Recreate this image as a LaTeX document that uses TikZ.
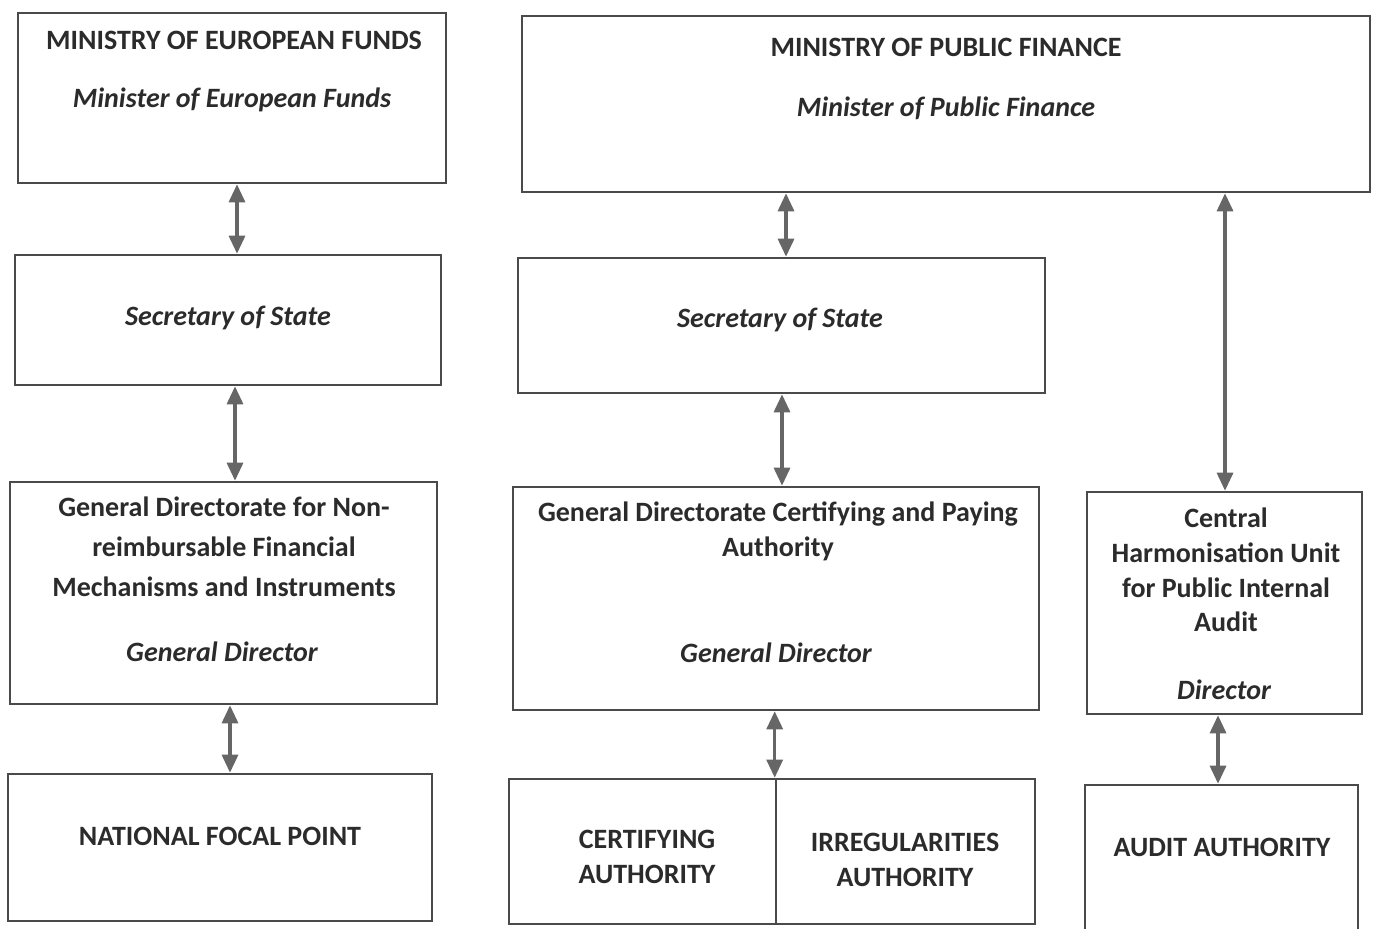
\documentclass[tikz,border=0pt]{standalone}
\usepackage{fontspec}
\setmainfont{Carlito}
\usetikzlibrary{arrows.meta,fit}
\definecolor{bordc}{HTML}{4A4A4A}
\definecolor{arrc}{HTML}{666666}
\definecolor{txtc}{HTML}{2B2B2B}
\tikzset{
  box/.style={draw=bordc, line width=1.3pt, inner sep=0pt},
  lbl/.style={text=txtc, font=\fontsize{14}{20}\selectfont\bfseries, align=center, inner sep=0pt},
  ilbl/.style={lbl, font=\fontsize{14}{20}\selectfont\bfseries\itshape},
  tlbl/.style={lbl, font=\fontsize{14}{17.3}\selectfont\bfseries},
  arr/.style={draw=arrc, line width=1.6pt, {Triangle[length=9pt,width=8pt]}-{Triangle[length=9pt,width=8pt]}}
}
\begin{document}
\begin{tikzpicture}[x=0.5pt,y=-0.5pt]
\useasboundingbox (0,0) rectangle (1379,929);
% boxes
\node[box, fit={(18,13)(446,183)}] (mef) {};
\node[box, fit={(522,16)(1370,192)}] (mpf) {};
\node[box, fit={(15,255)(441,385)}] (ss1) {};
\node[box, fit={(518,258)(1045,393)}] (ss2) {};
\node[box, fit={(10,482)(437,704)}] (gd1) {};
\node[box, fit={(513,487)(1039,710)}] (gd2) {};
\node[box, fit={(1087,492)(1362,714)}] (chu) {};
\node[box, fit={(8,774)(432,921)}] (nfp) {};
\node[box, fit={(509,779)(776,924)}] (ca) {};
\node[box, fit={(776,779)(1035,924)}] (ia) {};
\node[box, fit={(1085,785)(1358,935)}] (aa) {};
% texts
\node[lbl] (t1) at (234,40) {MINISTRY OF EUROPEAN FUNDS};
\node[ilbl] (t2) at (232,100) {Minister of European Funds};
\node[lbl] (t3) at (946,47) {MINISTRY OF PUBLIC FINANCE};
\node[ilbl] (t4) at (946,108) {Minister of Public Finance};
\node[ilbl] (t5) at (228,318) {Secretary of State};
\node[ilbl] (t6) at (780,320) {Secretary of State};
\node[lbl] (t7) at (224,547) {General Directorate for Non-\\reimbursable Financial\\Mechanisms and Instruments};
\node[ilbl] (t8) at (222,652) {General Director};
\node[lbl, font=\fontsize{14}{17.5}\selectfont\bfseries] (t9) at (778,531) {General Directorate Certifying and Paying\\Authority};
\node[ilbl] (t10) at (776,653) {General Director};
\node[tlbl] (t11) at (1226,570) {Central\\Harmonisation Unit\\for Public Internal\\Audit};
\node[ilbl] (t12) at (1224,690) {Director};
\node[lbl] (t13) at (220,836) {NATIONAL FOCAL POINT};
\node[tlbl] (t14) at (647,857) {CERTIFYING\\AUTHORITY};
\node[tlbl] (t15) at (905,860) {IRREGULARITIES\\AUTHORITY};
\node[lbl] (t16) at (1222,847) {AUDIT AUTHORITY};
% arrows
\draw[arr] (mef.south -| 237,0) -- (ss1.north -| 237,0);
\draw[arr] (ss1.south -| 235,0) -- (gd1.north -| 235,0);
\draw[arr] (gd1.south -| 230,0) -- (nfp.north -| 230,0);
\draw[arr] (mpf.south -| 786,0) -- (ss2.north -| 786,0);
\draw[arr] (ss2.south -| 782,0) -- (gd2.north -| 782,0);
\draw[arr] (gd2.south -| ia.north west) -- (ia.north west);
\draw[arr] (mpf.south -| 1225,0) -- (chu.north -| 1225,0);
\draw[arr] (chu.south -| 1218,0) -- (aa.north -| 1218,0);
\end{tikzpicture}
\end{document}
